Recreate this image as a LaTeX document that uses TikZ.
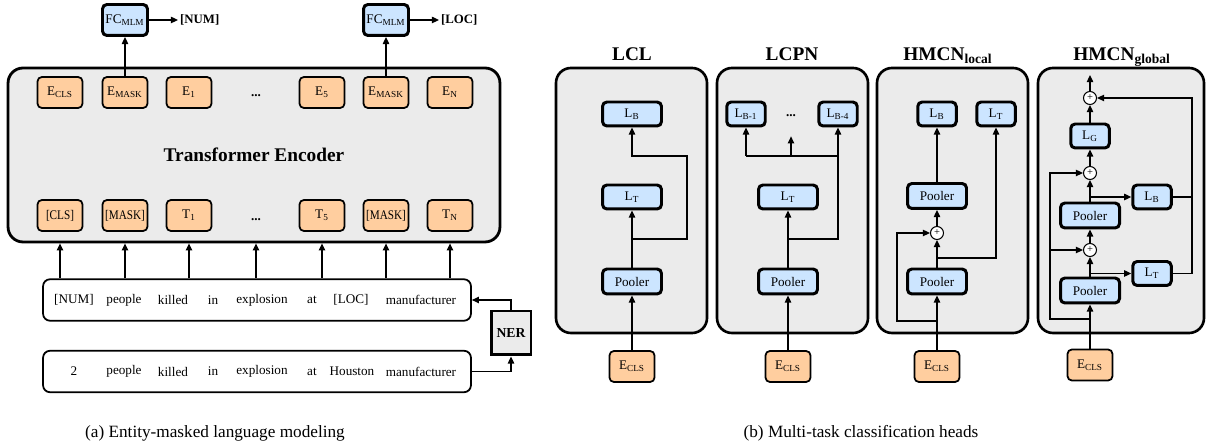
\documentclass[tikz,border=0pt]{standalone}
\usepackage{fontspec}
\setmainfont{Liberation Serif}
\newfontfamily\narrowrm{Liberation Serif}[FakeStretch=0.85]
\usetikzlibrary{arrows.meta}

\definecolor{encgray}{HTML}{EBEBEB}
\definecolor{tokorange}{HTML}{FFCE9F}
\definecolor{headblue}{HTML}{CCE5FF}

\tikzset{
  enc/.style={draw=black, line width=1.6pt, rounded corners=8.5pt, fill=encgray, inner sep=0pt, font=\fontsize{11}{13}\bfseries\selectfont},
  panel/.style={draw=black, line width=1.5pt, rounded corners=8.5pt, fill=encgray},
  tok/.style={draw=black, line width=1pt, rounded corners=2.5pt, fill=tokorange, minimum width=0.9cm, minimum height=0.62cm, inner sep=0pt, font=\fontsize{7.5}{9}\selectfont},
  tokn/.style={tok, font=\fontsize{7.5}{9}\narrowrm},
  head/.style={draw=black, line width=1.7pt, rounded corners=2.5pt, fill=headblue, minimum width=1.18cm, minimum height=0.48cm, inner sep=0pt, font=\fontsize{7.5}{9}\selectfont},
  headn/.style={head, minimum width=0.77cm},
  pool/.style={head, minimum height=0.5cm},
  fc/.style={head, minimum width=0.9cm, minimum height=0.62cm},
  sent/.style={draw=black, line width=1pt, rounded corners=4pt, fill=white, minimum width=8.56cm, minimum height=0.83cm, inner sep=0pt},
  word/.style={font=\fontsize{7.5}{9}\selectfont, inner sep=0pt},
  dotsl/.style={font=\fontsize{7.5}{9}\bfseries\selectfont, inner sep=0pt},
  ner/.style={draw=black, line width=1.7pt, fill=encgray, minimum width=0.8cm, minimum height=0.88cm, inner sep=0pt, font=\fontsize{7.8}{9}\bfseries\selectfont},
  plus/.style={circle, draw=black, line width=0.6pt, fill=white, minimum size=0.26cm, inner sep=0pt, font=\fontsize{6}{6}\selectfont},
  outlbl/.style={anchor=west, inner sep=1pt, font=\fontsize{7.3}{9}\bfseries\selectfont},
  title/.style={anchor=base, inner sep=0pt, font=\fontsize{11}{13}\bfseries\selectfont},
  captext/.style={inner sep=0pt, font=\fontsize{9.8}{12}\selectfont},
  arr/.style={-{Triangle[length=4pt,width=3.6pt]}, line width=0.75pt},
  ln/.style={line width=0.75pt},
}

\begin{document}
\begin{tikzpicture}[x=0.02cm, y=-0.02cm]
\useasboundingbox (0,0) rectangle (1207,448);

% (a) entity-masked language modeling
\node[enc, minimum width=9.84cm, minimum height=3.48cm] (enc) at (254,155) {Transformer Encoder};

\node[tok] (ecls) at (60,92.5) {E\textsubscript{CLS}};
\node[tok] (emask1) at (125,92.5) {E\textsubscript{MASK}};
\node[tok] (e1) at (189,92.5) {E\textsubscript{1}};
\node[dotsl] (edots) at (256,96) {...};
\node[tok] (e5) at (322,92.5) {E\textsubscript{5}};
\node[tok] (emask2) at (386,92.5) {E\textsubscript{MASK}};
\node[tok] (en) at (450,92.5) {E\textsubscript{N}};

\node[tokn] (tcls) at (60,215.5) {[CLS]};
\node[tokn] (tmask1) at (125,215.5) {[MASK]};
\node[tok] (t1) at (189,215.5) {T\textsubscript{1}};
\node[dotsl] (tdots) at (256,220) {...};
\node[tok] (t5) at (322,215.5) {T\textsubscript{5}};
\node[tokn] (tmask2) at (386,215.5) {[MASK]};
\node[tok] (tn) at (450,215.5) {T\textsubscript{N}};

\node[fc] (fc1) at (125,20) {FC\textsubscript{MLM}};
\node[fc] (fc2) at (386,20) {FC\textsubscript{MLM}};
\node[outlbl] (onum) at (178,20) {[NUM]};
\node[outlbl] (oloc) at (439,20) {[LOC]};
\draw[arr] (emask1) -- (fc1);
\draw[arr] (emask2) -- (fc2);
\draw[arr] (fc1) -- (onum);
\draw[arr] (fc2) -- (oloc);

\node[sent] (s1) at (257,300) {};
\node[word] (w1a) at (74,300) {[NUM]};
\node[word] (w1b) at (124,300) {people};
\node[word] (w1c) at (173,300) {killed};
\node[word] (w1d) at (213,300) {in};
\node[word] (w1e) at (262,300) {explosion};
\node[word] (w1f) at (312,300) {at};
\node[word] (w1g) at (351,300) {[LOC]};
\node[word] (w1h) at (421,300) {manufacturer};

\node[sent] (s2) at (257,371.5) {};
\node[word] (w2a) at (74,371.5) {2};
\node[word] (w2b) at (124,371.5) {people};
\node[word] (w2c) at (173,371.5) {killed};
\node[word] (w2d) at (213,371.5) {in};
\node[word] (w2e) at (262,371.5) {explosion};
\node[word] (w2f) at (312,371.5) {at};
\node[word] (w2g) at (352,371.5) {Houston};
\node[word] (w2h) at (421,371.5) {manufacturer};

\draw[arr] (s1.north -| tcls) -- (enc.south -| tcls);
\draw[arr] (s1.north -| tmask1) -- (enc.south -| tmask1);
\draw[arr] (s1.north -| t1) -- (enc.south -| t1);
\draw[arr] (s1.north -| tdots) -- (enc.south -| tdots);
\draw[arr] (s1.north -| t5) -- (enc.south -| t5);
\draw[arr] (s1.north -| tmask2) -- (enc.south -| tmask2);
\draw[arr] (s1.north -| tn) -- (enc.south -| tn);

\node[ner] (ner) at (511,333) {NER};
\draw[arr] (s2.east) -| (ner.south);
\draw[arr] (ner.north) |- (s1.east);

% (b) classification heads
\node[title] (tlcl) at (632,61) {LCL};
\node[title] (tlcpn) at (792,61) {LCPN};
\node[title] (thloc) at (948,61) {HMCN\textsubscript{local}};
\node[title] (thglob) at (1122,61) {HMCN\textsubscript{global}};

\draw[panel] (556,68) rectangle (707,333);
\draw[panel] (717,68) rectangle (868,333);
\draw[panel] (877,68) rectangle (1028,333);
\draw[panel] (1038,68) rectangle (1204,333);

% LCL
\node[head] (lclb) at (632,114) {L\textsubscript{B}};
\node[head] (lclt) at (632,197) {L\textsubscript{T}};
\node[pool] (lclp) at (632,281.5) {Pooler};
\node[tok] (lcle) at (632,366.5) {E\textsubscript{CLS}};
\coordinate (lclc1) at (632,239);
\coordinate (lclc2) at (687,156);
\draw[arr] (lcle) -- (lclp);
\draw[arr] (lclp) -- (lclt);
\draw[arr] (lclc1) -| (lclc2) -| (lclb.south);

% LCPN
\node[headn] (lcpnb1) at (746,114) {L\textsubscript{B-1}};
\node[dotsl, minimum height=0.8cm] (lcpnd) at (791,116) {...};
\node[headn] (lcpnb4) at (838,114) {L\textsubscript{B-4}};
\node[head] (lcpnt) at (788,197) {L\textsubscript{T}};
\node[pool] (lcpnp) at (788,281.5) {Pooler};
\node[tok] (lcpne) at (788,366.5) {E\textsubscript{CLS}};
\coordinate (lcpnc1) at (788,239);
\coordinate (lcpnc2) at (746,156);
\draw[arr] (lcpne) -- (lcpnp);
\draw[arr] (lcpnp) -- (lcpnt);
\draw[arr] (lcpnc1) -| (lcpnb4.south);
\draw[ln] (lcpnc2) -- (lcpnc2 -| lcpnb4);
\draw[arr] (lcpnc2) -- (lcpnb1.south);
\draw[arr] (lcpnc2 -| lcpnd) -- (lcpnd.south);

% HMCN local
\node[headn] (hlb) at (937,114) {L\textsubscript{B}};
\node[headn] (hlt) at (996,114) {L\textsubscript{T}};
\node[pool] (hlp2) at (937,196) {Pooler};
\node[plus] (hlplus) at (937,233) {+};
\node[pool] (hlp1) at (937,281.5) {Pooler};
\node[tok] (hle) at (937,366.5) {E\textsubscript{CLS}};
\coordinate (hlc1) at (937,321);
\coordinate (hlc2) at (897,321);
\coordinate (hlc3) at (937,258);
\draw[arr] (hle) -- (hlp1);
\draw[arr] (hlp1) -- (hlplus);
\draw[arr] (hlplus) -- (hlp2);
\draw[arr] (hlp2) -- (hlb);
\draw[arr] (hlc1) -- (hlc2) |- (hlplus.west);
\draw[arr] (hlc3) -| (hlt.south);

% HMCN global
\node[plus] (hgplus1) at (1090,98) {+};
\node[headn] (hglg) at (1090,136) {L\textsubscript{G}};
\node[plus] (hgplus2) at (1090,173) {+};
\node[headn] (hglb) at (1152,197) {L\textsubscript{B}};
\node[pool] (hgp2) at (1090,215.5) {Pooler};
\node[plus] (hgplus3) at (1090,250) {+};
\node[headn] (hglt) at (1152,273.5) {L\textsubscript{T}};
\node[pool] (hgp1) at (1090,290.5) {Pooler};
\node[tok] (hge) at (1090,365) {E\textsubscript{CLS}};
\coordinate (hgtop) at (1090,75);
\coordinate (hgc1) at (1090,319);
\coordinate (hgc2) at (1050,319);
\coordinate (hgc4) at (1192,98);
\draw[arr] (hge) -- (hgp1);
\draw[arr] (hgp1) -- (hgplus3);
\draw[arr] (hgplus3) -- (hgp2);
\draw[arr] (hgp2) -- (hgplus2);
\draw[arr] (hgplus2) -- (hglg);
\draw[arr] (hglg) -- (hgplus1);
\draw[arr] (hgplus1) -- (hgtop);
\draw[arr] (hgc1) -- (hgc2) |- (hgplus2.west);
\draw[arr] (hgc2 |- hgplus3) -- (hgplus3.west);
\draw[arr] (hgp1.north |- hglt) -- (hglt.west);
\draw[arr] (hgp2.north |- hglb) -- (hglb.west);
\draw[ln] (hglb.east) -- (hglb.east -| hgc4);
\draw[arr] (hglt.east) -| (hgc4) -- (hgplus1.east);

\node[captext] (capa) at (215,433) {(a) Entity-masked language modeling};
\node[captext] (capb) at (861,433) {(b) Multi-task classification heads};
\end{tikzpicture}
\end{document}
